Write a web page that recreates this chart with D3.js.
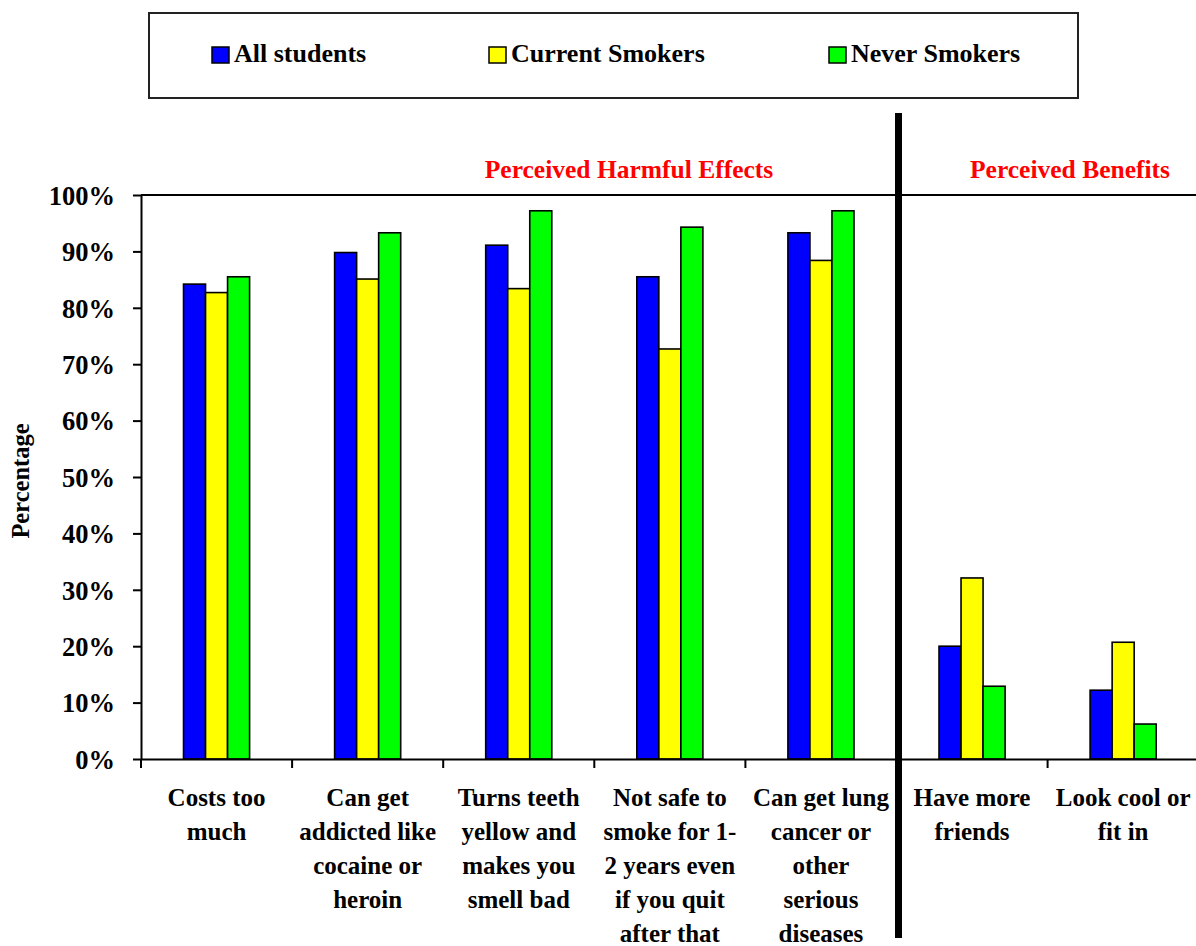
<!DOCTYPE html>
<html><head><meta charset="utf-8">
<script src="https://cdn.jsdelivr.net/npm/d3@7"></script>
<style>
html,body{margin:0;padding:0;background:#fff;}
svg{display:block;}
text{font-family:"Liberation Serif","Times New Roman",serif;font-weight:bold;}
</style></head>
<body>
<svg id="chart" width="1196" height="946"></svg>
<script>
const categories = [
  ["Costs too","much"],
  ["Can get","addicted like","cocaine or","heroin"],
  ["Turns teeth","yellow and","makes you","smell bad"],
  ["Not safe to","smoke for 1-","2 years even","if you quit","after that"],
  ["Can get lung","cancer or","other","serious","diseases"],
  ["Have more","friends"],
  ["Look cool or","fit in"]
];
const seriesNames = ["All students","Current Smokers","Never Smokers"];
const seriesColors = ["#0000ff","#ffff00","#00ff00"];
const allStudents    = [84.2, 89.8, 91.1, 85.5, 93.3, 20.0, 12.2];
const currentSmokers = [82.7, 85.1, 83.4, 72.7, 88.4, 32.1, 20.7];
const neverSmokers   = [85.5, 93.3, 97.2, 94.3, 97.2, 12.9, 6.2];
const yTicks = [0,10,20,30,40,50,60,70,80,90,100];
const sectionLabels = ["Perceived Harmful Effects","Perceived Benefits"];

(function(){
const seriesValues = [allStudents, currentSmokers, neverSmokers];
const svg = d3.select("#chart");

const pLeft = 141, pBottom = 759, pTop = 195, step = 151.1;
const x0 = d3.scaleBand().domain(d3.range(categories.length))
  .range([pLeft, pLeft + step*categories.length]).padding(0);
const x1 = d3.scaleBand().domain(d3.range(3)).range([0, x0.bandwidth()])
  .paddingInner(0).paddingOuter(1.93);
const y = d3.scaleLinear().domain([0,100]).range([pBottom, pTop]);

// bars
categories.forEach((c, i) => {
  seriesValues.forEach((vals, s) => {
    svg.append("rect")
      .attr("x", x0(i) + x1(s))
      .attr("y", y(vals[i]))
      .attr("width", x1.bandwidth())
      .attr("height", y(0) - y(vals[i]))
      .attr("fill", seriesColors[s])
      .attr("stroke", "#000").attr("stroke-width", 1.6);
  });
});

// top plot border
svg.append("line").attr("x1", pLeft).attr("x2", 1196).attr("y1", y(100)).attr("y2", y(100))
  .attr("stroke","#000").attr("stroke-width",2);

// y axis
const yAxis = d3.axisLeft(y).tickValues(yTicks).tickSize(8).tickSizeOuter(0)
  .tickFormat(d => d + "%");
const gy = svg.append("g").attr("transform", `translate(${pLeft},0)`).call(yAxis);
gy.select(".domain").attr("stroke","#000").attr("stroke-width",2);
gy.selectAll(".tick line").attr("stroke","#000").attr("stroke-width",2);
gy.selectAll(".tick text").attr("x",-26).attr("dy","0.35em").attr("font-size",26.5)
  .attr("font-family","Liberation Serif").attr("font-weight","bold").attr("fill","#000");

// x axis
const xAxis = d3.axisBottom(x0).tickValues([]).tickSizeOuter(0);
const gx = svg.append("g").attr("transform", `translate(0,${pBottom})`).call(xAxis);
gx.select(".domain").attr("stroke","#000").attr("stroke-width",2);
const boundaries = d3.range(categories.length).map(i => x0(i));
gx.selectAll(".sep").data(boundaries).enter().append("line")
  .attr("x1", d => d).attr("x2", d => d).attr("y1", 0).attr("y2", 9)
  .attr("stroke","#000").attr("stroke-width",2);

// x labels
categories.forEach((lines, i) => {
  const t = svg.append("text")
    .attr("x", x0(i) + x0.bandwidth()/2)
    .attr("y", 806)
    .attr("text-anchor","middle").attr("font-size",25).attr("fill","#000");
  lines.forEach((ln, k) => {
    t.append("tspan").attr("x", x0(i) + x0.bandwidth()/2).attr("y", 806 + k*34).text(ln);
  });
});

// divider
const divX = x0(5) + 2;
svg.append("line").attr("x1",divX).attr("x2",divX).attr("y1",113).attr("y2",938)
  .attr("stroke","#000").attr("stroke-width",7);

// section labels
svg.append("text").attr("x", 629).attr("y", 178)
  .attr("text-anchor","middle").attr("font-size",25.5).attr("fill","#ff0000").text(sectionLabels[0]);
svg.append("text").attr("x", 1070).attr("y", 178)
  .attr("text-anchor","middle").attr("font-size",25.5).attr("fill","#ff0000").text(sectionLabels[1]);

// y title
svg.append("text").attr("transform","translate(29,481) rotate(-90)")
  .attr("text-anchor","middle").attr("font-size",24.5).attr("fill","#000").text("Percentage");

// legend
svg.append("rect").attr("x",149).attr("y",13).attr("width",929).attr("height",85)
  .attr("fill","#fff").attr("stroke","#222").attr("stroke-width",2);
const legendX = [212, 489, 829];
seriesNames.forEach((n, s) => {
  svg.append("rect").attr("x", legendX[s]).attr("y", 47).attr("width", 17).attr("height", 16)
    .attr("fill", seriesColors[s]).attr("stroke","#000").attr("stroke-width",1.5);
  svg.append("text").attr("x", legendX[s] + 22).attr("y", 62).attr("font-size",26)
    .attr("fill","#000").text(n);
});
})();
</script>
</body></html>
